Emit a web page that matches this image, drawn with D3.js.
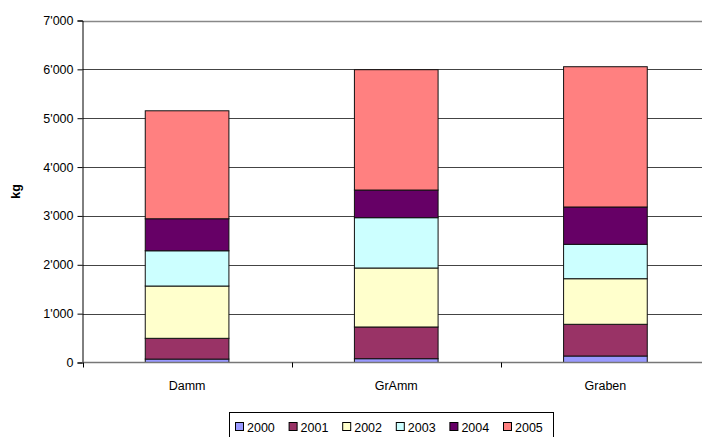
<!DOCTYPE html>
<html>
<head>
<meta charset="utf-8">
<script src="https://cdn.jsdelivr.net/npm/d3@7"></script>
<style>
  body { margin: 0; background: #fff; }
  svg { display: block; font-family: "Liberation Sans", Arial, sans-serif; }
</style>
</head>
<body>
<svg id="chart" width="702" height="437"></svg>
<script>
// categories and yearly series (kg)
var categories = ['Damm', 'GrAmm', 'Graben'];
var years = ['2000', '2001', '2002', '2003', '2004', '2005'];
var v2000 = [70, 78, 133];
var v2001 = [425, 649, 649];
var v2002 = [1070, 1207, 933];
var v2003 = [722, 1030, 704];
var v2004 = [655, 566, 764];
var v2005 = [2210, 2463, 2871];
var yTicks = [0, 1000, 2000, 3000, 4000, 5000, 6000, 7000];
var colors = ['#9999ff', '#993366', '#ffffcc', '#ccffff', '#660066', '#ff8080'];

var series = [v2000, v2001, v2002, v2003, v2004, v2005];
var rows = categories.map(function(c, i) {
  var r = { cat: c };
  years.forEach(function(y, j) { r[y] = series[j][i]; });
  return r;
});

var svg = d3.select('#chart');
var fs = 12.5;
// plot box (window.top is reserved, so use a prefix)
var pLeft = 82.5, pTop = 20.5, pBottom = 362.5, pRight = 710;

var x = d3.scaleBand().domain(categories).range([pLeft, pRight]).padding(0);
var y = d3.scaleLinear().domain([0, 7000]).range([pBottom, pTop]);

var fmt = d3.formatLocale({ decimal: '.', thousands: "'", grouping: [3], currency: ['', ''] }).format(',');

// gridlines
svg.append('g')
  .selectAll('line')
  .data(yTicks.slice(1))
  .join('line')
    .attr('x1', pLeft).attr('x2', 702)
    .attr('y1', function(d) { return Math.round(y(d)) + 0.5; })
    .attr('y2', function(d) { return Math.round(y(d)) + 0.5; })
    .attr('stroke', function(d) { return d === 7000 ? '#888' : '#444'; })
    .attr('stroke-width', function(d) { return d === 7000 ? 1.5 : 1; });

// stacked bars
var stack = d3.stack().keys(years)(rows);
var bw = x.bandwidth() * 0.4;
svg.append('g')
  .selectAll('g')
  .data(stack)
  .join('g')
    .attr('fill', function(d, i) { return colors[i]; })
  .selectAll('rect')
  .data(function(d) { return d; })
  .join('rect')
    .attr('x', function(d) { return x(d.data.cat) + (x.bandwidth() - bw) / 2; })
    .attr('width', bw)
    .attr('y', function(d) { return y(d[1]); })
    .attr('height', function(d) { return y(d[0]) - y(d[1]); })
    .attr('stroke', '#111')
    .attr('stroke-width', 1);

// y axis
var yAxis = svg.append('g')
  .attr('transform', 'translate(' + pLeft + ',0)')
  .call(d3.axisLeft(y).tickValues(yTicks).tickFormat(fmt).tickSize(5).tickPadding(4));
yAxis.select('.domain').attr('stroke', '#000');
yAxis.selectAll('.tick line').attr('stroke', '#000');
yAxis.selectAll('text').attr('font-size', fs).attr('fill', '#000')
  .attr('font-family', '"Liberation Sans", Arial, sans-serif');

// x axis baseline + category separators
svg.append('line')
  .attr('x1', pLeft).attr('x2', 702)
  .attr('y1', pBottom).attr('y2', pBottom)
  .attr('stroke', '#777').attr('stroke-width', 1.5);
svg.append('g')
  .selectAll('line')
  .data(categories)
  .join('line')
    .attr('x1', function(d) { return Math.round(x(d)) + 0.5; })
    .attr('x2', function(d) { return Math.round(x(d)) + 0.5; })
    .attr('y1', pBottom).attr('y2', pBottom + 5)
    .attr('stroke', '#000');
svg.append('g')
  .selectAll('text')
  .data(categories)
  .join('text')
    .attr('x', function(d) { return x(d) + x.bandwidth() / 2; })
    .attr('y', 390)
    .attr('text-anchor', 'middle')
    .attr('font-size', fs)
    .text(function(d) { return d; });

// axis title
svg.append('text')
  .attr('transform', 'translate(20,' + ((pTop + pBottom) / 2) + ') rotate(-90)')
  .attr('text-anchor', 'middle')
  .attr('font-size', fs)
  .attr('font-weight', 'bold')
  .text('kg');

// legend
var legend = svg.append('g').attr('transform', 'translate(229,412)');
legend.append('rect')
  .attr('x', 0.5).attr('y', 0.5).attr('width', 324).attr('height', 28)
  .attr('fill', '#fff').attr('stroke', '#000');
var item = legend.selectAll('g.item')
  .data(years)
  .join('g')
    .attr('class', 'item')
    .attr('transform', function(d, i) { return 'translate(' + (6 + i * 53.6) + ',0)'; });
item.append('rect')
  .attr('x', 0.5).attr('y', 10.5).attr('width', 8).attr('height', 8)
  .attr('fill', function(d, i) { return colors[i]; })
  .attr('stroke', '#000');
item.append('text')
  .attr('x', 12).attr('y', 19.5)
  .attr('font-size', fs)
  .text(function(d) { return d; });
</script>
</body>
</html>
